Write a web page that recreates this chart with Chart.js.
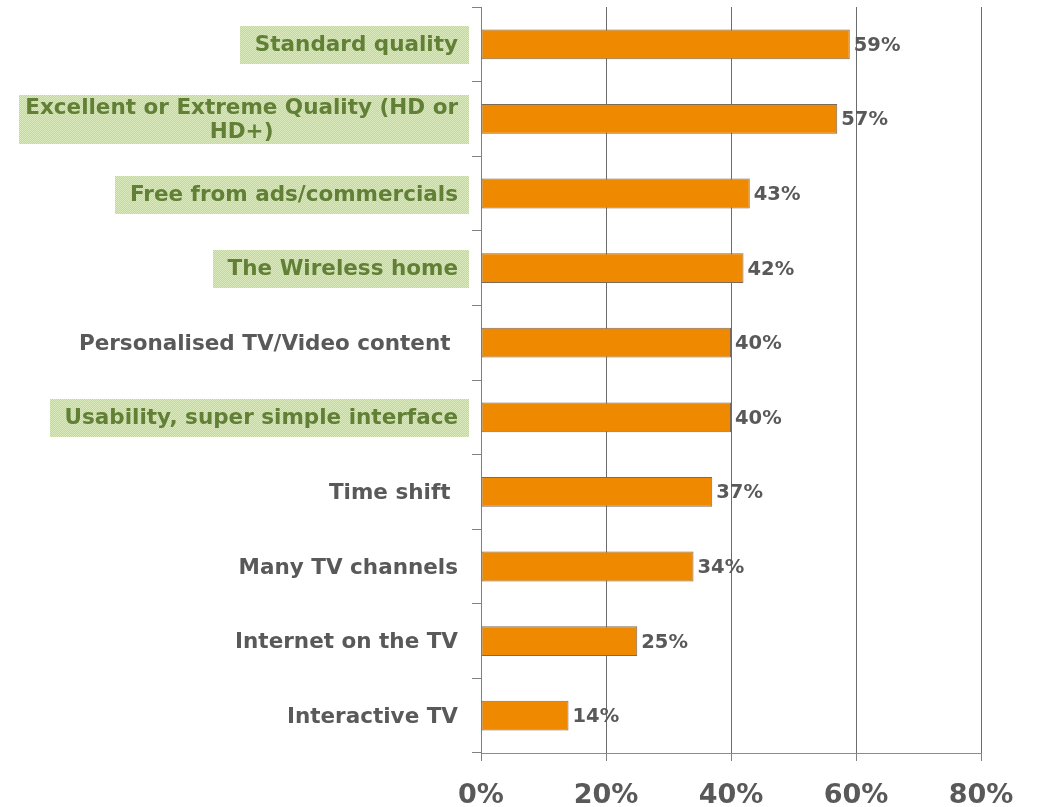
<!DOCTYPE html>
<html><head><meta charset="utf-8">
<script src="https://cdn.jsdelivr.net/npm/chart.js@4.4.0/dist/chart.umd.min.js"></script>
<style>html,body{margin:0;padding:0;background:#fff;} #wrap{width:1042px;height:807px;}</style>
</head><body><div id="wrap"><canvas id="c" width="1042" height="807"></canvas></div>
<script>
const categories = [
  'Standard quality',
  ['Excellent or Extreme Quality (HD or', 'HD+)'],
  'Free from ads/commercials',
  'The Wireless home',
  'Personalised TV/Video content ',
  'Usability, super simple interface',
  'Time shift ',
  'Many TV channels',
  'Internet on the TV',
  'Interactive TV'
];
const values = [59, 57, 43, 42, 40, 40, 37, 34, 25, 14];
const highlighted = [true, true, true, true, false, true, false, false, false, false];
const xTickValues = [0, 20, 40, 60, 80];

const GRAY_TEXT = '#595959';
const GREEN_TEXT = '#617f35';
const FONT = '"DejaVu Sans", "Liberation Sans", Arial, sans-serif';

// dotted light-green fill
const pc = document.createElement('canvas');
pc.width = 2; pc.height = 2;
const pctx = pc.getContext('2d');
pctx.fillStyle = '#c3db90'; pctx.fillRect(0, 0, 2, 2);
pctx.fillStyle = '#dbeabd'; pctx.fillRect(0, 0, 1, 1); pctx.fillRect(1, 1, 1, 1);
const pattern = pctx.createPattern(pc, 'repeat');

const labelPlugin = {
  id: 'catLabels',
  afterDraw(chart) {
    const ctx = chart.ctx, ys = chart.scales.y;
    ctx.save();
    ctx.font = 'bold 21.5px ' + FONT;
    ctx.textBaseline = 'middle';
    const xr = chart.chartArea.left - 23;
    const lh = 24.6;
    categories.forEach((lab, i) => {
      const lines = Array.isArray(lab) ? lab : [lab];
      const yc = ys.getPixelForTick(i);
      const w = Math.max(...lines.map(l => ctx.measureText(l).width));
      if (highlighted[i]) {
        const h = lines.length === 1 ? 38 : 49;
        const top = lines.length === 1 ? yc - 18 : yc - 24;
        const padL = lines.length === 1 ? 15 : 6;
        ctx.fillStyle = pattern;
        ctx.fillRect(Math.round(xr - w - padL), Math.round(top), Math.round(w + padL + 11), h);
      }
      ctx.fillStyle = highlighted[i] ? GREEN_TEXT : GRAY_TEXT;
      lines.forEach((l, k) => {
        const y = yc + (k - (lines.length - 1) / 2) * lh + 1.5;
        if (lines.length > 1) { ctx.textAlign = 'center'; ctx.fillText(l, xr - w / 2, y); }
        else { ctx.textAlign = 'right'; ctx.fillText(l, xr, y); }
      });
    });
    ctx.restore();
  }
};

const valuePlugin = {
  id: 'valueLabels',
  afterDatasetsDraw(chart) {
    const ctx = chart.ctx;
    const meta = chart.getDatasetMeta(0);
    ctx.save();
    ctx.font = 'bold 19.5px ' + FONT;
    ctx.fillStyle = GRAY_TEXT;
    ctx.textAlign = 'left';
    ctx.textBaseline = 'middle';
    meta.data.forEach((bar, i) => {
      ctx.fillText(values[i] + '%', bar.x + 4, bar.y + 1.5);
    });
    ctx.restore();
  }
};

new Chart(document.getElementById('c'), {
  type: 'bar',
  data: {
    labels: categories,
    datasets: [{
      data: values,
      backgroundColor: '#ef8a00',
      borderColor: '#7d6a58',
      borderWidth: 1,
      borderSkipped: false,
      barPercentage: 0.4,
      categoryPercentage: 1.0
    }]
  },
  options: {
    indexAxis: 'y',
    responsive: false,
    devicePixelRatio: 1,
    animation: false,
    layout: { padding: { top: 7, right: 61, left: 0, bottom: 0 } },
    plugins: { legend: { display: false }, tooltip: { enabled: false } },
    scales: {
      x: {
        min: xTickValues[0],
        max: xTickValues[xTickValues.length - 1],
        afterBuildTicks: s => { s.ticks = xTickValues.map(v => ({ value: v })); },
        grid: { color: '#6b6b6b', lineWidth: 1, drawTicks: true, tickLength: 8, tickColor: '#808080' },
        border: { display: true, color: '#8c8c8c' },
        ticks: {
          callback: v => v + '%',
          color: GRAY_TEXT,
          font: { family: FONT, size: 27, weight: 'bold' },
          padding: 19,
          maxRotation: 0
        },
        afterFit: s => { s.height = 54; }
      },
      y: {
        grid: { display: true, drawOnChartArea: false, drawTicks: true, tickLength: 9, color: '#808080', offset: true },
        border: { display: true, color: '#808080' },
        ticks: { display: false },
        afterFit: s => { s.width = 481; }
      }
    }
  },
  plugins: [labelPlugin, valuePlugin]
});
</script>
</body></html>
